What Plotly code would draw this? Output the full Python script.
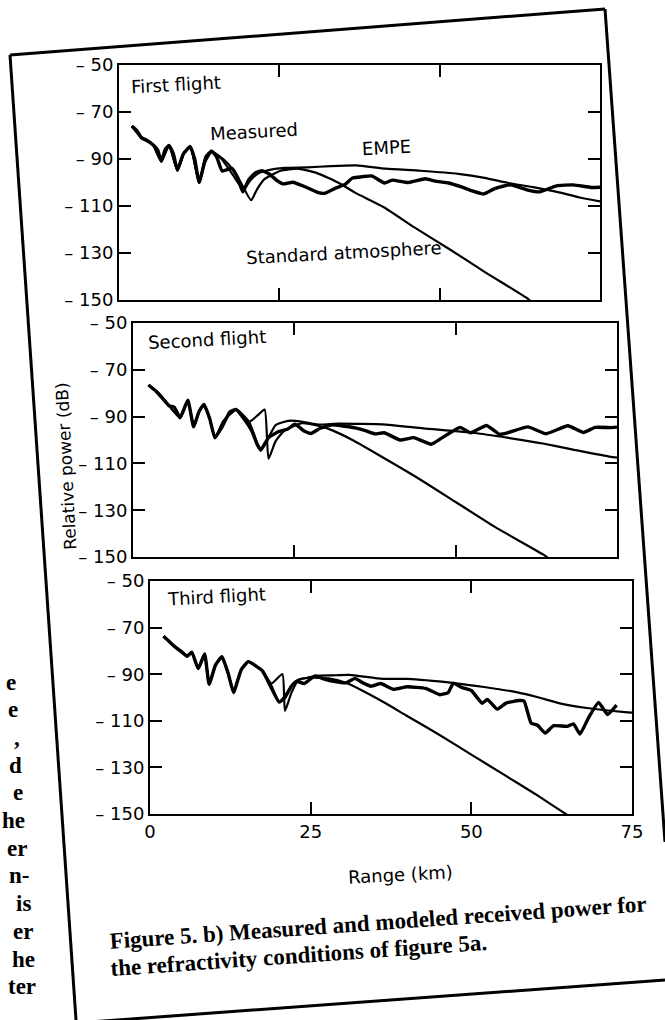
import plotly.graph_objects as go

# ---------------- data (range in km, relative power in dB) ----------------
# First flight
meas1_km = [2.0, 2.8, 3.5, 4.3, 5.3, 6.0, 6.6, 7.2, 7.8, 8.5, 9.1, 10.0, 11.1, 11.8, 12.5, 13.4, 14.4, 15.2, 16.1, 17.6,
            18.5, 19.3, 20.2, 21.2, 22.3, 23.5, 24.6, 25.6, 27.1, 29.1, 31.1, 32.1, 33.7, 35.3, 36.4, 38.0, 39.4, 41.4,
            42.6, 45.1, 47.8, 49.3, 51.4, 53.4, 55.0, 56.9, 58.5, 60.0, 61.1, 63.6, 65.6, 68.2, 70.8, 73.6, 75.0]
meas1_db = [-76.0, -78.0, -80.9, -82.0, -83.9, -86.0, -91.0, -86.0, -84.2, -88.0, -94.8, -88.0, -84.7, -90.0, -100.0,
            -91.0, -86.6, -89.0, -95.1, -94.0, -98.0, -104.0, -99.0, -96.0, -95.0, -96.5, -99.1, -100.6, -99.9, -101.9,
            -104.3, -104.6, -102.5, -100.7, -98.1, -97.5, -97.2, -100.2, -99.0, -100.0, -98.4, -99.4, -100.2, -101.9,
            -103.5, -104.9, -102.7, -101.5, -101.0, -103.1, -104.0, -101.4, -101.0, -102.1, -102.0]
empe1_km = [2.0, 3.5, 5.3, 6.6, 7.8, 9.1, 10.2, 11.1, 12.5, 13.5, 14.4, 16.0, 17.8, 19.4, 20.5, 21.5, 23.2, 25.8,
            29.3, 33.0, 37.0, 41.6, 47.0, 52.9, 57.0, 60.7, 64.6, 68.6, 72.0, 75.0]
empe1_db = [-76.0, -81.0, -84.0, -91.0, -84.2, -94.8, -87.0, -84.7, -100.0, -89.0, -86.6, -90.0, -97.0, -103.0, -99.0,
            -96.5, -94.8, -93.8, -93.6, -93.0, -92.7, -94.1, -95.0, -96.3, -98.0, -100.2, -102.0, -104.2, -106.5, -108.0]
std1_km = [2.0, 3.5, 5.3, 6.6, 7.8, 9.1, 10.2, 11.1, 12.5, 13.5, 14.4, 15.5, 17.0, 18.6, 20.6, 21.5, 22.6, 24.0, 25.2,
           27.8, 30.8, 34.5, 36.8, 41.3, 46.0, 51.6, 57.0, 63.4, 64.2]
std1_db = [-76.0, -81.0, -84.0, -91.0, -84.2, -94.8, -87.0, -84.7, -100.0, -89.0, -86.6, -88.5, -92.0, -98.0, -107.5,
           -103.0, -98.8, -96.5, -95.0, -94.1, -95.9, -100.5, -104.3, -110.5, -119.0, -128.5, -138.0, -148.8, -150.5]

# Second flight
meas2_km = [2.4, 3.5, 4.5, 5.6, 6.4, 7.3, 8.5, 9.4, 10.2, 11.0, 11.9, 12.7, 13.8, 15.0, 16.0, 17.5, 18.4, 19.3, 19.8,
            21.0, 22.5, 24.0, 25.1, 26.6, 27.6, 29.0, 30.8, 32.5, 34.4, 36.0, 37.5, 38.9, 41.4, 43.5, 46.2, 47.8, 50.7,
            52.3, 54.8, 56.8, 58.1, 61.2, 64.0, 67.4, 69.8, 71.6, 74.2, 75.0]
meas2_db = [-76.5, -79.0, -82.0, -85.4, -86.0, -90.5, -83.0, -94.4, -88.0, -84.8, -91.0, -99.1, -94.4, -88.0, -87.0,
            -92.1, -96.0, -102.2, -104.3, -99.0, -96.5, -95.3, -93.3, -96.3, -97.2, -95.0, -93.5, -94.0, -94.8, -96.0,
            -97.4, -96.9, -100.0, -99.0, -101.8, -99.2, -94.6, -96.9, -93.8, -97.6, -96.9, -94.4, -97.3, -93.9, -96.8,
            -94.6, -94.7, -94.5]
empe2_km = [2.4, 4.0, 5.6, 7.3, 8.5, 9.4, 10.2, 11.0, 11.9, 12.7, 14.0, 16.0, 18.0, 19.8, 22.1, 24.1, 26.1, 28.7,
            31.8, 35.0, 38.7, 45.0, 53.0, 58.0, 63.1, 68.0, 74.0, 75.0]
empe2_db = [-76.5, -80.0, -85.4, -90.5, -83.0, -94.4, -88.0, -84.8, -91.0, -99.1, -92.0, -87.0, -92.2, -104.4, -93.6,
            -91.8, -92.1, -93.4, -93.0, -93.1, -93.3, -95.0, -97.0, -99.0, -101.3, -104.0, -107.2, -107.5]
std2_km = [2.4, 4.0, 5.6, 7.3, 8.5, 9.4, 10.2, 11.0, 11.9, 12.7, 14.0, 16.0, 18.0, 19.3, 20.4, 21.0, 22.1, 23.5, 26.2,
           28.7, 31.0, 34.0, 38.2, 44.0, 50.0, 56.0, 63.6, 64.4]
std2_db = [-76.5, -80.0, -85.4, -90.5, -83.0, -94.4, -88.0, -84.8, -91.0, -99.1, -92.0, -87.0, -92.2, -89.5, -87.0,
           -108.0, -100.5, -95.9, -92.8, -93.9, -96.0, -100.0, -106.6, -116.0, -126.5, -137.0, -149.0, -150.5]

# Third flight
meas3_km = [2.1, 3.0, 4.0, 5.0, 5.8, 6.5, 7.5, 8.5, 9.2, 10.2, 11.2, 12.2, 13.0, 14.2, 15.3, 16.5, 17.5, 18.9, 20.1,
            21.0, 22.0, 22.8, 24.0, 25.7, 27.0, 28.8, 30.5, 31.9, 33.0, 34.4, 35.9, 37.9, 40.0, 42.9, 45.1, 46.4, 47.2,
            48.5, 50.0, 51.7, 52.5, 54.0, 55.4, 57.4, 58.2, 59.3, 60.3, 61.5, 62.8, 64.9, 65.9, 66.9, 68.2, 69.8,
            71.2, 72.6]
meas3_db = [-73.7, -76.0, -78.5, -80.5, -82.3, -80.5, -87.6, -81.3, -94.3, -86.0, -82.5, -90.0, -97.9, -88.0, -84.6,
            -86.5, -88.6, -96.0, -102.0, -100.0, -95.2, -93.1, -94.0, -90.7, -92.0, -93.2, -93.7, -91.8, -93.5, -95.2,
            -94.0, -96.5, -95.4, -96.1, -98.8, -97.9, -93.8, -95.7, -97.0, -102.5, -100.8, -105.0, -102.4, -101.3,
            -101.5, -111.0, -111.9, -115.3, -112.1, -112.4, -111.3, -115.7, -108.9, -102.1, -107.3, -103.3]
empe3_km = [2.1, 4.0, 5.8, 6.5, 7.5, 8.5, 9.2, 10.2, 11.2, 12.2, 13.0, 14.2, 15.3, 16.5, 17.5, 18.9, 20.1, 22.0, 23.0,
            24.5, 25.8, 28.4, 31.0, 36.2, 40.1, 47.3, 52.0, 57.0, 60.5, 63.6, 68.0, 74.3, 75.0]
empe3_db = [-73.7, -78.5, -82.3, -80.5, -87.6, -81.3, -94.3, -86.0, -82.5, -90.0, -97.9, -88.0, -84.6, -86.5, -88.6,
            -95.0, -102.0, -95.2, -92.5, -91.5, -90.7, -90.5, -90.3, -92.0, -92.0, -93.8, -95.5, -97.7, -100.0, -102.4,
            -104.5, -106.4, -106.5]
std3_km = [2.1, 4.0, 5.8, 6.5, 7.5, 8.5, 9.2, 10.2, 11.2, 12.2, 13.0, 14.2, 15.3, 16.5, 17.5, 18.9, 20.6, 21.0, 22.0,
           23.1, 25.0, 27.8, 30.5, 33.0, 36.8, 39.8, 45.0, 50.0, 55.0, 60.0, 64.2, 65.0]
std3_db = [-73.7, -78.5, -82.3, -80.5, -87.6, -81.3, -94.3, -86.0, -82.5, -90.0, -97.9, -88.0, -84.6, -86.5, -88.6,
           -94.0, -89.9, -105.8, -98.0, -92.4, -91.5, -91.8, -93.7, -97.0, -102.7, -107.6, -116.0, -124.5, -133.0,
           -141.5, -149.1, -150.5]

panel_names = ['First flight', 'Second flight', 'Third flight']
y_ticks = [-150, -130, -110, -90, -70, -50]
y_tick_text = ['\u2013 150', '\u2013 130', '\u2013 110', '\u2013 90', '\u2013 70', '\u2013 50']
x_ticks = [0, 25, 50, 75]
x_tick_text = ['0', '25', '50', '75']

W, H = 665, 1020

# panel boxes in page pixels (left, right, top, bottom)
boxes = [(119, 600, 65, 300), (133, 617, 323, 557), (150, 632, 581, 814)]

panels = [
    (meas1_km, meas1_db, empe1_km, empe1_db, std1_km, std1_db),
    (meas2_km, meas2_db, empe2_km, empe2_db, std2_km, std2_db),
    (meas3_km, meas3_db, empe3_km, empe3_db, std3_km, std3_db),
]

fig = go.Figure()

tick_font = dict(family='DejaVu Sans', size=18, color='black')
axis_common = dict(showline=True, linecolor='black', linewidth=2, mirror='ticks', ticks='inside',
                   ticklen=12, tickwidth=2, tickcolor='black', showgrid=False, zeroline=False,
                   tickfont=tick_font, automargin=False)

for i, (mk, md, ek, ed, sk, sd) in enumerate(panels, start=1):
    xa = 'x' if i == 1 else 'x%d' % i
    ya = 'y' if i == 1 else 'y%d' % i
    for xs, ys, w, sm in [(sk, sd, 2.2, 0.5), (ek, ed, 2.2, 0.5), (mk, md, 3.4, 0.4)]:
        fig.add_trace(go.Scatter(x=xs, y=ys, mode='lines',
                                 line=dict(color='black', width=w, shape='spline', smoothing=sm),
                                 xaxis=xa, yaxis=ya, showlegend=False, hoverinfo='skip'))
    l, r, t, b = boxes[i - 1]
    fig.layout['xaxis' if i == 1 else 'xaxis%d' % i] = dict(
        axis_common, domain=[l / W, r / W], range=[0, 75], anchor=ya,
        tickvals=x_ticks, ticktext=x_tick_text, showticklabels=(i == 3))
    fig.layout['yaxis' if i == 1 else 'yaxis%d' % i] = dict(
        axis_common, domain=[1 - b / H, 1 - t / H], range=[-150, -50], anchor=xa,
        tickvals=y_ticks, ticktext=y_tick_text)

label_font = dict(family='DejaVu Sans', size=18, color='black')
annotations = []
# panel names
name_pos = [(1.5, -58.5), (2.0, -57.0), (2.2, -56.5)]
for i, (name, (px, py)) in enumerate(zip(panel_names, name_pos), start=1):
    annotations.append(dict(text=name, x=px, y=py, xref='x' if i == 1 else 'x%d' % i,
                            yref='y' if i == 1 else 'y%d' % i, xanchor='left', yanchor='middle',
                            showarrow=False, font=label_font, textangle=-3))
# curve labels in the first panel
for txt, px, py in [('Measured', 21.1, -78.4), ('EMPE', 41.7, -85.1), ('Standard atmosphere', 35.1, -129.6)]:
    annotations.append(dict(text=txt, x=px, y=py, xref='x', yref='y', xanchor='center', yanchor='middle',
                            showarrow=False, font=label_font, textangle=-3))

# axis titles
annotations.append(dict(text='Range (km)', x=400 / W, y=1 - 874 / H, xref='paper', yref='paper',
                        xanchor='center', yanchor='middle',
                        showarrow=False, font=label_font, textangle=-3))
annotations.append(dict(text='Relative power (dB)', x=66 / W, y=1 - 466 / H, xref='paper', yref='paper',
                        xanchor='center', yanchor='middle',
                        showarrow=False, font=dict(label_font, size=17), textangle=-93))

# caption
cap_font = dict(family='Liberation Serif', size=23, color='black')
annotations.append(dict(text='<b>Figure 5. b) Measured and modeled received power for</b>', x=107 / W,
                        y=1 - 922 / H, xref='paper', yref='paper', xanchor='left', yanchor='middle',
                        showarrow=False, font=cap_font, textangle=-4))
annotations.append(dict(text='<b>the refractivity conditions of figure 5a.</b>', x=107 / W, y=1 - 955 / H,
                        xref='paper', yref='paper', xanchor='left', yanchor='middle',
                        showarrow=False, font=cap_font, textangle=-4))

# end of the neighbouring text column
col_font = dict(family='Liberation Serif', size=23, color='black')
column_bits = ['e', 'e', ',', 'd', 'e', 'he', 'er', 'n-', 'is', 'er', 'he', 'ter']
for k, bit in enumerate(column_bits):
    yy = 682 + k * 27.7
    annotations.append(dict(text='<b>' + bit + '</b>', x=(18 + (yy - 682) * 0.067) / W, y=1 - yy / H,
                            xref='paper', yref='paper', xanchor='right', yanchor='middle',
                            showarrow=False, font=col_font))

# page frame lines (printed box around the figure)
frame = [((10, 55), (605, 9)), ((605, 9), (665, 842)), ((10, 55), (76, 1020)), ((76, 1023), (665, 980))]
shapes = []
for (x0, y0), (x1, y1) in frame:
    shapes.append(dict(type='line', xref='paper', yref='paper', x0=x0 / W, y0=1 - y0 / H, x1=x1 / W,
                       y1=1 - y1 / H, line=dict(color='black', width=3)))

fig.update_layout(width=W, height=H, margin=dict(l=0, r=0, t=0, b=0, autoexpand=False),
                  paper_bgcolor='white', plot_bgcolor='white',
                  annotations=annotations, shapes=shapes, showlegend=False)

# page body margin off, so the figure sits at the window's top-left corner
fig.write_html('out.html', config={'displayModeBar': False},
               post_script="document.body.style.margin='0';")
